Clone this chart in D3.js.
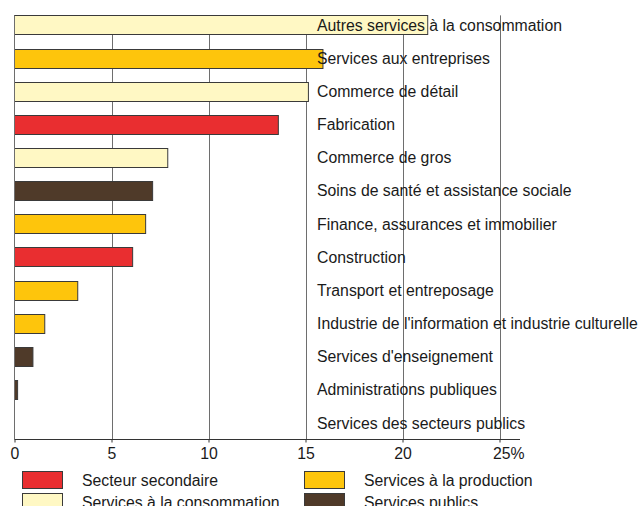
<!DOCTYPE html>
<html>
<head>
<meta charset="utf-8">
<script src="https://cdn.jsdelivr.net/npm/d3@7"></script>
<style>
  body { margin: 0; background: #fff; }
  text { font-family: "Liberation Sans", Arial, sans-serif; fill: #1a1a1a; }
</style>
</head>
<body>
<div id="chart"></div>
<script>
// data (percent)
var industries = [
  "Autres services à la consommation",
  "Services aux entreprises",
  "Commerce de détail",
  "Fabrication",
  "Commerce de gros",
  "Soins de santé et assistance sociale",
  "Finance, assurances et immobilier",
  "Construction",
  "Transport et entreposage",
  "Industrie de l'information et industrie culturelle",
  "Services d'enseignement",
  "Administrations publiques",
  "Services des secteurs publics"
];
var shares = [21.3, 15.9, 15.15, 13.6, 7.9, 7.12, 6.76, 6.09, 3.26, 1.56, 0.95, 0.16, 0];
var sectors = ["cons", "prod", "cons", "sec", "cons", "pub", "prod", "sec", "prod", "prod", "pub", "pub", "sec"];

var sectorKeys = ["sec", "prod", "cons", "pub"];
var sectorNames = ["Secteur secondaire", "Services à la production", "Services à la consommation", "Services publics"];
var sectorColors = ["#e92e30", "#fec50c", "#fff8c4", "#4f3a29"];

var xTicks = [0, 5, 10, 15, 20, 25];

var svgWidth = 644;
var svgHeight = 506;
var fontSize = "15.8px";

var svg = d3.select("#chart")
  .append("svg")
  .attr("width", svgWidth)
  .attr("height", svgHeight);

var x = d3.scaleLinear()
  .domain([0, 25])
  .range([14.5, 499.5]);

var y = d3.scaleBand()
  .domain(industries)
  .range([8.4, 439.5])
  .paddingInner(0.42)
  .paddingOuter(0.21);

var color = d3.scaleOrdinal()
  .domain(sectorKeys)
  .range(sectorColors);

var rows = industries.map((d, i) => ({ name: d, value: shares[i], sector: sectors[i] }));

var gridTop = y(industries[0]);
var axisY = 439.5;

// vertical grid lines
svg.append("g")
  .selectAll("line")
  .data(xTicks.slice(1))
  .join("line")
  .attr("x1", d => Math.round(x(d)) + 0.5)
  .attr("x2", d => Math.round(x(d)) + 0.5)
  .attr("y1", gridTop)
  .attr("y2", axisY)
  .attr("stroke", "#6e6e6e")
  .attr("stroke-width", 1);

// bars
svg.append("g")
  .selectAll("rect")
  .data(rows.filter(d => d.value > 0))
  .join("rect")
  .attr("x", x(0))
  .attr("y", d => Math.round(y(d.name)) + 0.5)
  .attr("width", d => x(d.value) - x(0))
  .attr("height", Math.round(y.bandwidth()))
  .attr("fill", d => color(d.sector))
  .attr("stroke", "#3a3a3a")
  .attr("stroke-width", 1);

// y axis line
svg.append("line")
  .attr("x1", x(0))
  .attr("x2", x(0))
  .attr("y1", gridTop)
  .attr("y2", axisY)
  .attr("stroke", "#6e6e6e");

// category labels
svg.append("g")
  .selectAll("text")
  .data(rows)
  .join("text")
  .attr("x", 317)
  .attr("y", d => y(d.name) + y.bandwidth() / 2)
  .attr("dy", "0.36em")
  .attr("font-size", fontSize)
  .text(d => d.name);

// bottom axis
var xAxis = d3.axisBottom(x)
  .tickValues(xTicks)
  .tickSize(3)
  .tickPadding(5)
  .tickFormat(d => d);

var axisG = svg.append("g")
  .attr("transform", `translate(0, ${axisY})`)
  .call(xAxis);

axisG.select(".domain")
  .attr("d", `M${x(0)},0H520`)
  .attr("stroke", "#333");
axisG.selectAll(".tick line").attr("stroke", "#333");
axisG.selectAll(".tick text")
  .attr("font-size", fontSize)
  .attr("font-family", "Liberation Sans, Arial, sans-serif")
  .attr("fill", "#1a1a1a");

// the % sign sits after the last label
axisG.selectAll(".tick")
  .filter(d => d === 25)
  .select("text")
  .attr("text-anchor", "start")
  .attr("x", -7)
  .text("25%");

// legend
var legend = svg.append("g");
var legendItems = legend.selectAll("g")
  .data(sectorKeys)
  .join("g")
  .attr("transform", (d, i) => `translate(${i % 2 === 0 ? 22 : 304}, ${i < 2 ? 471 : 493})`);

legendItems.append("rect")
  .attr("x", 0.5)
  .attr("y", 0.5)
  .attr("width", 40)
  .attr("height", 17)
  .attr("fill", d => color(d))
  .attr("stroke", "#3a3a3a");

legendItems.append("text")
  .attr("x", 60)
  .attr("y", 14.5)
  .attr("font-size", fontSize)
  .text((d, i) => sectorNames[i]);
</script>
</body>
</html>
